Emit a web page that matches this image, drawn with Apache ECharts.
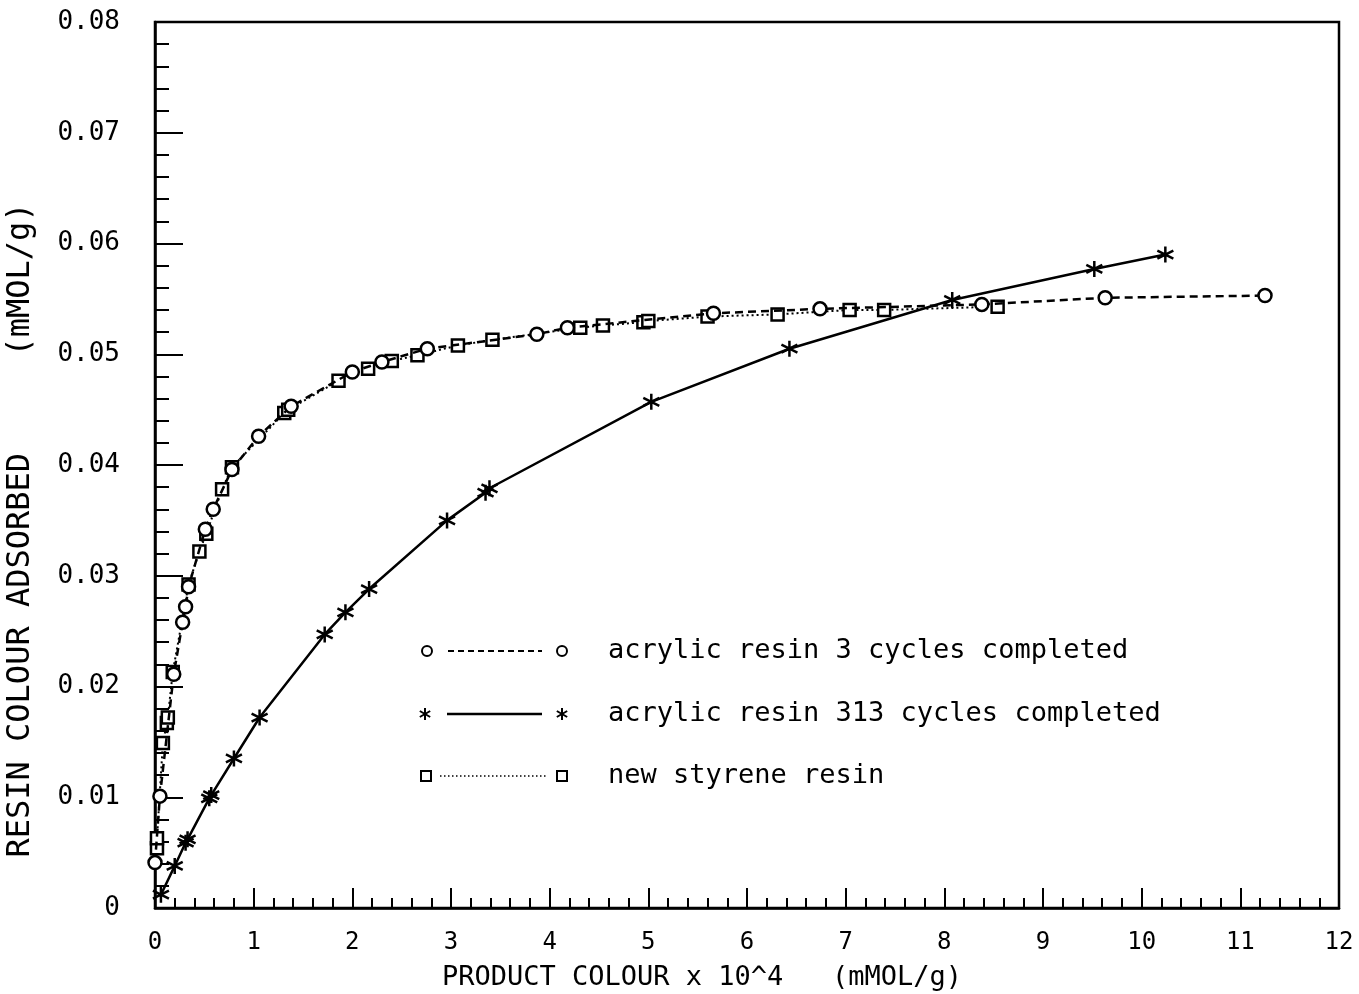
<!DOCTYPE html>
<html>
<head>
<meta charset="utf-8">
<script src="https://cdn.jsdelivr.net/npm/echarts@6/dist/echarts.min.js"></script>
<style>html,body{margin:0;padding:0;background:#fff}#c{width:1359px;height:994px}</style>
</head>
<body>
<div id="c"></div>
<script>
// acrylic resin 3 cycles completed (circles, dashed)
const acrylic3X = [0.0, 0.05, 0.19, 0.28, 0.31, 0.34, 0.51, 0.59, 0.78, 1.05, 1.38, 2.0, 2.30, 2.76, 3.87, 4.18, 5.66, 6.74, 8.38, 9.63, 11.25];
const acrylic3Y = [0.0041, 0.0101, 0.0211, 0.0258, 0.0272, 0.0290, 0.0342, 0.0360, 0.0396, 0.0426, 0.0453, 0.0484, 0.0493, 0.0505, 0.0518, 0.0524, 0.0537, 0.0541, 0.0545, 0.0551, 0.0553];
// acrylic resin 313 cycles completed (stars, solid)
const acrylic313X = [0.06, 0.20, 0.31, 0.33, 0.55, 0.57, 0.80, 1.06, 1.72, 1.93, 2.17, 2.96, 3.35, 3.39, 5.03, 6.43, 8.08, 9.52, 10.24];
const acrylic313Y = [0.0012, 0.0038, 0.0059, 0.0062, 0.0099, 0.0102, 0.0135, 0.0172, 0.0247, 0.0267, 0.0288, 0.0350, 0.0375, 0.0379, 0.0457, 0.0505, 0.0549, 0.0577, 0.0590];
// new styrene resin (squares, dotted)
const styreneX = [0.02, 0.02, 0.08, 0.12, 0.13, 0.18, 0.34, 0.45, 0.52, 0.68, 0.78, 1.31, 1.35, 1.86, 2.16, 2.40, 2.66, 3.07, 3.42, 4.31, 4.54, 4.95, 5.0, 5.6, 6.31, 7.04, 7.39, 8.54];
const styreneY = [0.0054, 0.0063, 0.0149, 0.0167, 0.0172, 0.0213, 0.0292, 0.0322, 0.0338, 0.0378, 0.0398, 0.0447, 0.0450, 0.0476, 0.0487, 0.0494, 0.0499, 0.0508, 0.0513, 0.0524, 0.0526, 0.0529, 0.0530, 0.0534, 0.0536, 0.0540, 0.0540, 0.0543];

const xTickLabels = ['0','1','2','3','4','5','6','7','8','9','10','11','12'];
const yTickLabels = ['0','0.01','0.02','0.03','0.04','0.05','0.06','0.07','0.08'];
const legendNames = ['acrylic resin 3 cycles completed', 'acrylic resin 313 cycles completed', 'new styrene resin'];
const xTitle = 'PRODUCT COLOUR x 10^4   (mMOL/g)';
const yTitle = 'RESIN COLOUR ADSORBED     (mMOL/g)';

const zip = (xs, ys) => xs.map((x, i) => [x, ys[i]]);
const MONO = '"DejaVu Sans Mono", "Liberation Mono", monospace';
const STAR = 'path://M0,-10L0,10M-8.66,-5L8.66,5M-8.66,5L8.66,-5';

const chart = echarts.init(document.getElementById('c'), null, {renderer: 'canvas'});

function starLines(cx, cy, r) {
  const out = [];
  for (let k = 0; k < 3; k++) {
    const a = Math.PI / 2 + k * Math.PI / 3;
    out.push({type: 'line', shape: {x1: cx - r * Math.cos(a), y1: cy - r * Math.sin(a), x2: cx + r * Math.cos(a), y2: cy + r * Math.sin(a)}, style: {stroke: '#000', lineWidth: 2}});
  }
  return out;
}

const legendRows = [651, 714, 776];
const graphics = [
  // legend row 1
  {type: 'circle', shape: {cx: 427, cy: legendRows[0], r: 5}, style: {fill: '#fff', stroke: '#000', lineWidth: 2}},
  {type: 'line', shape: {x1: 448, y1: legendRows[0], x2: 542, y2: legendRows[0]}, style: {stroke: '#000', lineWidth: 2, lineDash: [6, 4]}},
  {type: 'circle', shape: {cx: 562, cy: legendRows[0], r: 5}, style: {fill: '#fff', stroke: '#000', lineWidth: 2}},
  {type: 'text', left: 608, top: legendRows[0] - 14, style: {text: legendNames[0], font: '27px ' + MONO, fill: '#000'}},
  // legend row 2
  ...starLines(425, legendRows[1], 6),
  {type: 'line', shape: {x1: 447, y1: legendRows[1], x2: 542, y2: legendRows[1]}, style: {stroke: '#000', lineWidth: 2.5}},
  ...starLines(562, legendRows[1], 6),
  {type: 'text', left: 608, top: legendRows[1] - 14, style: {text: legendNames[1], font: '27px ' + MONO, fill: '#000'}},
  // legend row 3
  {type: 'rect', shape: {x: 421, y: legendRows[2] - 5, width: 10, height: 10}, style: {fill: '#fff', stroke: '#000', lineWidth: 2}},
  {type: 'line', shape: {x1: 440, y1: legendRows[2], x2: 546, y2: legendRows[2]}, style: {stroke: '#000', lineWidth: 1.5, lineDash: [1.5, 2.5]}},
  {type: 'rect', shape: {x: 557, y: legendRows[2] - 5, width: 10, height: 10}, style: {fill: '#fff', stroke: '#000', lineWidth: 2}},
  {type: 'text', left: 608, top: legendRows[2] - 14, style: {text: legendNames[2], font: '27px ' + MONO, fill: '#000'}},
  // axis titles
  {type: 'text', x: 702, y: 978, style: {text: xTitle, font: '27px ' + MONO, fill: '#000', align: 'center', verticalAlign: 'middle'}},
  {type: 'text', x: 21, y: 530, rotation: Math.PI / 2, style: {text: yTitle, font: '32px ' + MONO, fill: '#000', align: 'center', verticalAlign: 'middle'}}
];

const option = {
  backgroundColor: '#fff',
  animation: false,
  grid: {left: 155, right: 20, top: 22, bottom: 86, show: true, borderColor: '#000', borderWidth: 2.5, backgroundColor: 'transparent', containLabel: false},
  xAxis: {
    type: 'value', min: 0, max: 12, interval: 1,
    axisLine: {show: true, lineStyle: {color: '#000', width: 2.5}},
    axisTick: {show: true, inside: true, length: 20, lineStyle: {color: '#000', width: 2}},
    minorTick: {show: true, splitNumber: 5, length: 10, lineStyle: {color: '#000', width: 2}},
    splitLine: {show: false},
    axisLabel: {margin: 23, color: '#000', fontFamily: MONO, fontSize: 24, formatter: (v) => xTickLabels[Math.round(v)]}
  },
  yAxis: {
    type: 'value', min: 0, max: 0.08, interval: 0.01,
    axisLine: {show: true, lineStyle: {color: '#000', width: 2.5}},
    axisTick: {show: true, inside: true, length: 28, lineStyle: {color: '#000', width: 2}},
    minorTick: {show: true, splitNumber: 5, length: 14, lineStyle: {color: '#000', width: 2}},
    splitLine: {show: false},
    axisLabel: {margin: 35, color: '#000', fontFamily: MONO, fontSize: 26, formatter: (v) => yTickLabels[Math.round(v * 100)]}
  },
  series: [
    {
      name: legendNames[0], type: 'line', data: zip(acrylic3X, acrylic3Y),
      symbol: 'circle', symbolSize: 13, z: 3,
      itemStyle: {color: '#fff', borderColor: '#000', borderWidth: 2.5},
      lineStyle: {color: '#000', width: 2.5, type: [8, 5]}
    },
    {
      name: legendNames[1], type: 'line', data: zip(acrylic313X, acrylic313Y),
      symbol: STAR, symbolSize: 16, z: 4,
      itemStyle: {color: '#000', borderColor: '#000', borderWidth: 2.5},
      lineStyle: {color: '#000', width: 2.5}
    },
    {
      name: legendNames[2], type: 'line', data: zip(styreneX, styreneY),
      symbol: 'rect', symbolSize: 12, z: 2,
      itemStyle: {color: '#fff', borderColor: '#000', borderWidth: 2.5},
      lineStyle: {color: '#000', width: 2, type: [2, 3]}
    }
  ],
  graphic: graphics
};
chart.setOption(option);
</script>
</body>
</html>
